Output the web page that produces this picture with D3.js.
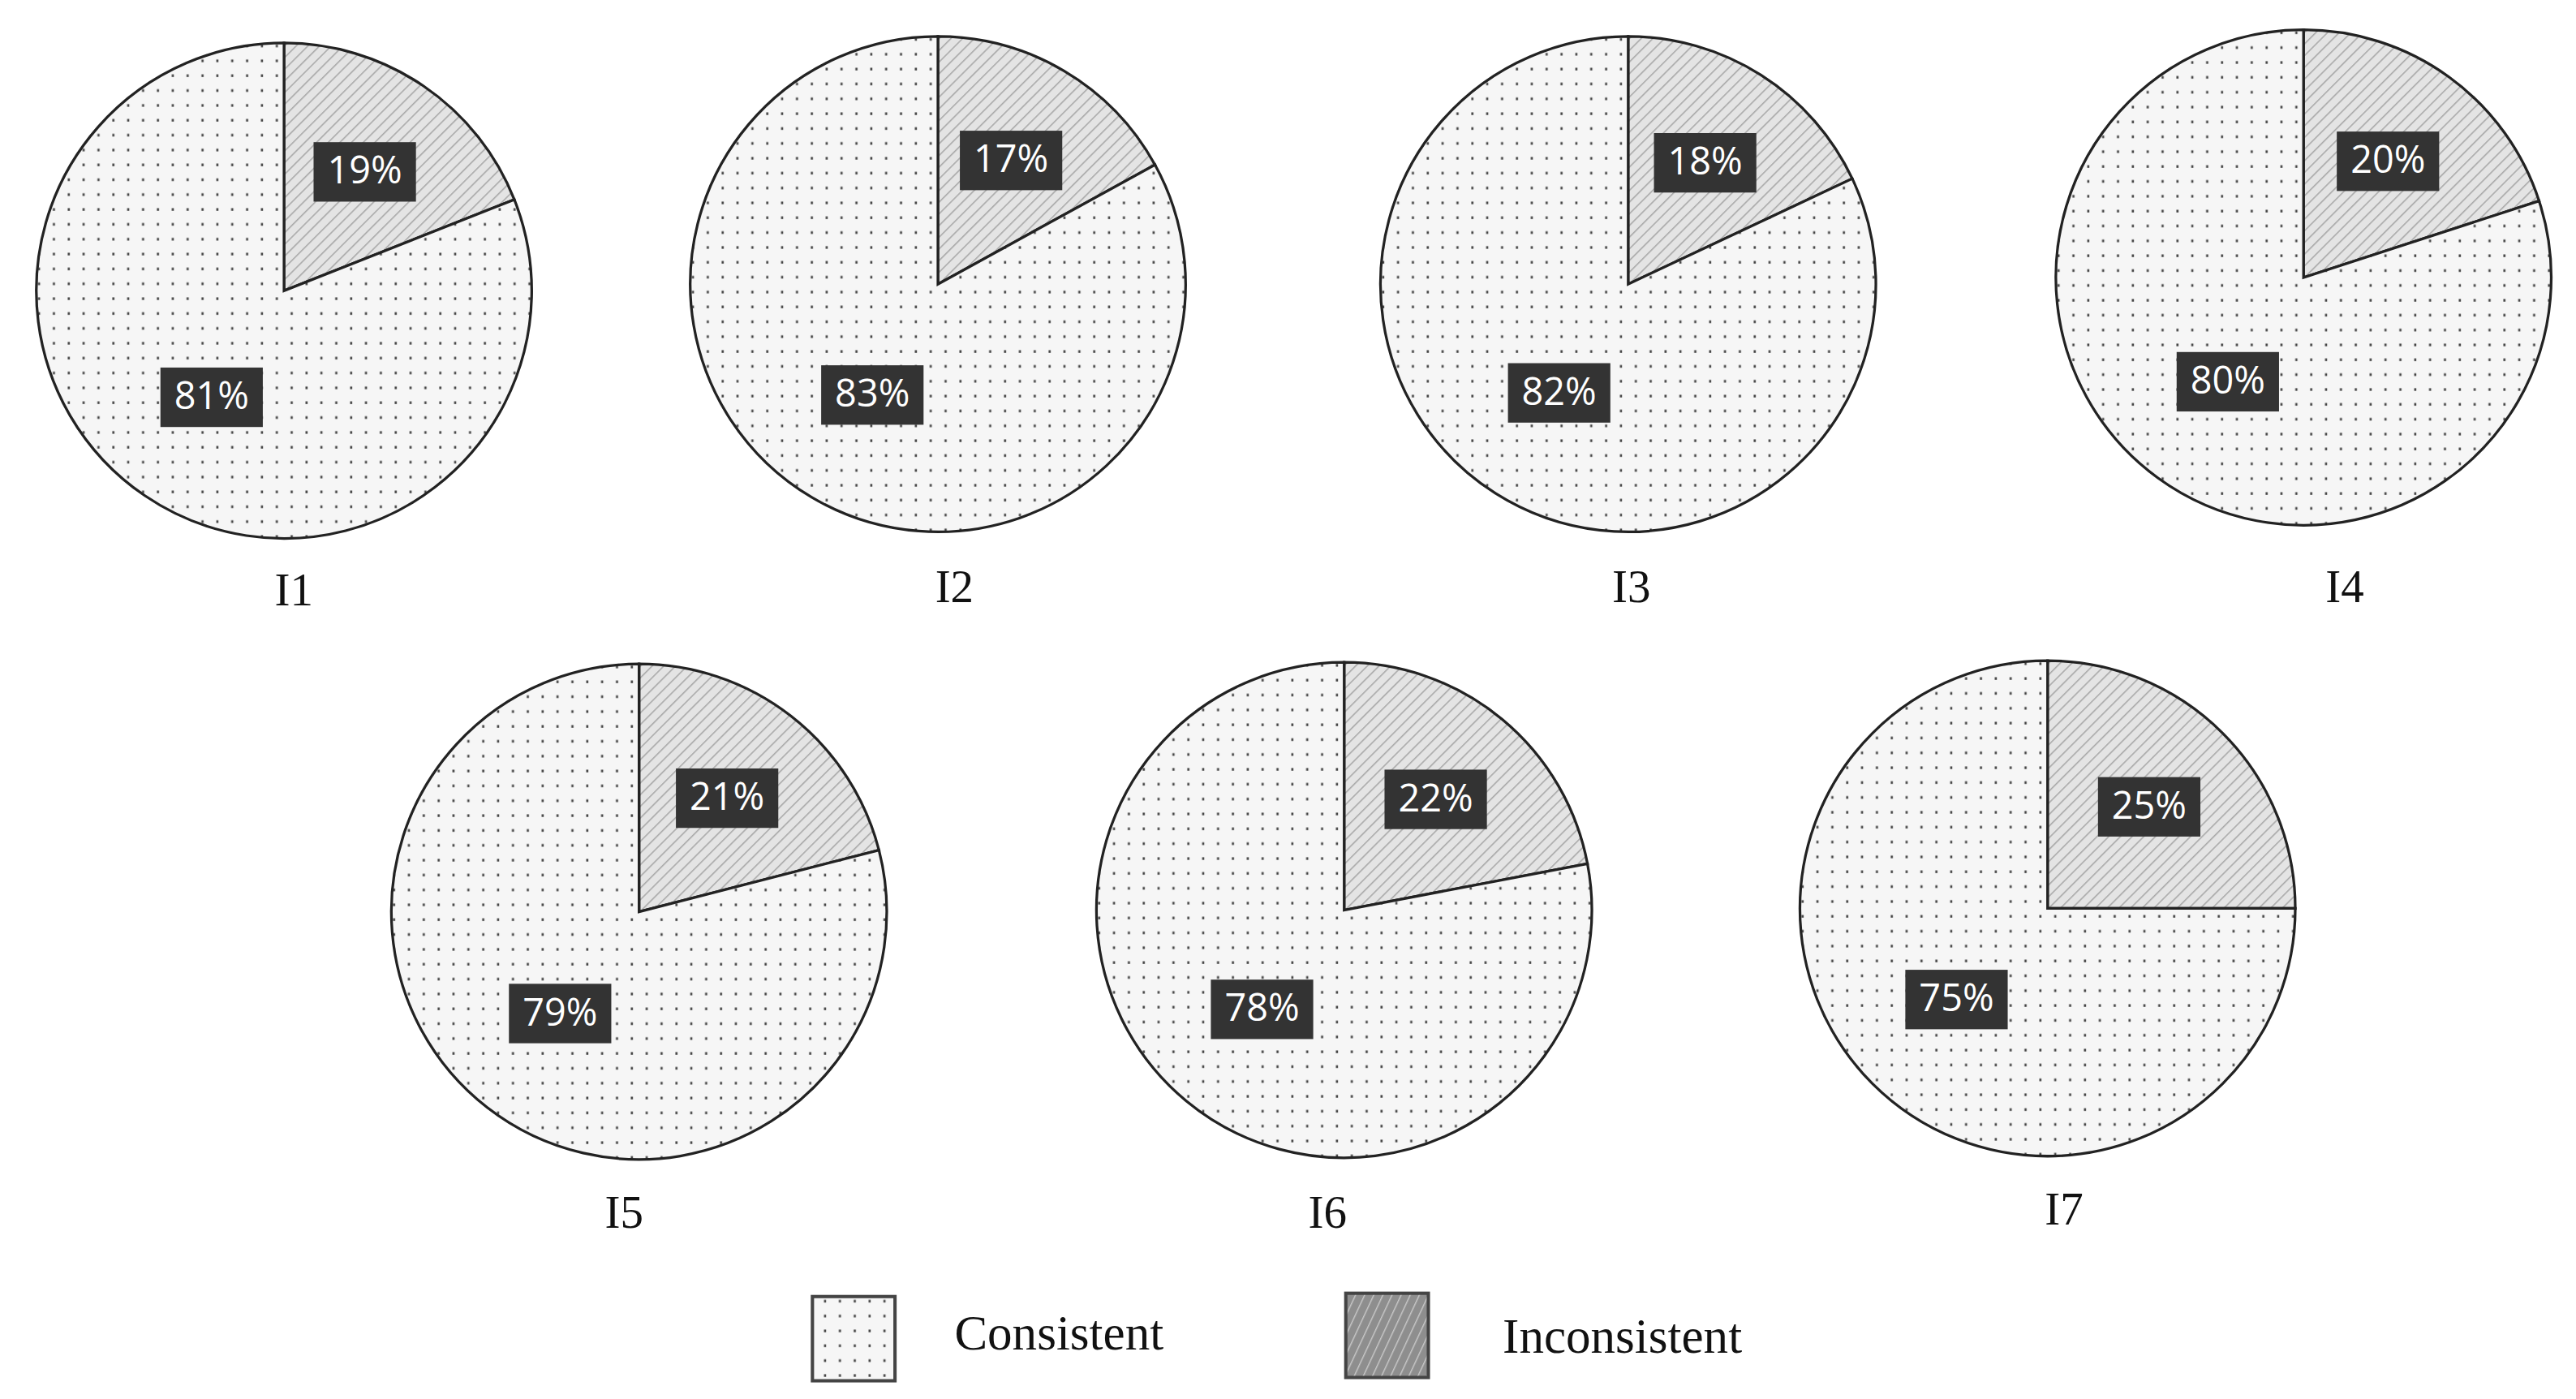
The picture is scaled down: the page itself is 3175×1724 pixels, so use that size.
<!DOCTYPE html>
<html><head><meta charset="utf-8">
<script src="https://cdn.jsdelivr.net/npm/d3@7"></script>
<style>html,body{margin:0;background:#fff;}svg{display:block;}</style>
</head><body>
<svg id="chart" width="3175" height="1724" viewBox="0 0 1560 847"></svg>
<script>
const items = ['I1','I2','I3','I4','I5','I6','I7'];
const consistent = [81,83,82,80,79,78,75];
const inconsistent = [19,17,18,20,21,22,25];
const legendLabels = ['Consistent','Inconsistent'];

// layout of pie centres (in viewBox units)
const centres = [[172,176],[568,172],[986,172],[1395,168],[387,552],[814,551],[1240,550]];
const labelPos = [[178,360],[578,358],[988,358],[1420,358],[378,737],[804,737],[1250,735]];
const R = 150;

const svg = d3.select('#chart');
const defs = svg.append('defs');
const dots = defs.append('pattern').attr('id','dots').attr('patternUnits','userSpaceOnUse').attr('width',9).attr('height',9);
dots.append('rect').attr('width',9).attr('height',9).attr('fill','#f6f6f6');
dots.append('rect').attr('x',4).attr('y',4).attr('width',1.3).attr('height',1.6).attr('fill','#444');
const hatch = defs.append('pattern').attr('id','hatch').attr('patternUnits','userSpaceOnUse').attr('width',5).attr('height',5).attr('patternTransform','rotate(45)');
hatch.append('rect').attr('width',5).attr('height',5).attr('fill','#e4e4e4');
hatch.append('line').attr('x1',0).attr('y1',0).attr('x2',0).attr('y2',5).attr('stroke','#aaa').attr('stroke-width',1.6);
const hatchDark = defs.append('pattern').attr('id','hatchDark').attr('patternUnits','userSpaceOnUse').attr('width',5).attr('height',5).attr('patternTransform','rotate(25)');
hatchDark.append('rect').attr('width',5).attr('height',5).attr('fill','#8e8e8e');
hatchDark.append('line').attr('x1',0).attr('y1',0).attr('x2',0).attr('y2',5).attr('stroke','#c8c8c8').attr('stroke-width',1.4);

const pie = d3.pie().sort(null).value(d=>d.v);
const arc = d3.arc().innerRadius(0).outerRadius(R);

items.forEach((name,i)=>{
  const data = [{k:'inc',v:inconsistent[i]},{k:'con',v:consistent[i]}];
  const g = svg.append('g').attr('transform',`translate(${centres[i][0]},${centres[i][1]})`);
  const arcs = pie(data);
  g.selectAll('path').data(arcs).enter().append('path')
    .attr('d',arc)
    .attr('fill',d=>d.data.k==='inc'?'url(#hatch)':'url(#dots)')
    .attr('stroke','#222').attr('stroke-width',1.6);
  arcs.forEach(a=>{
    const lr = a.data.k==='inc' ? R*0.58 : R*0.52;
    const [x,y] = d3.arc().innerRadius(lr).outerRadius(lr).centroid(a);
    g.append('rect').attr('x',x-31).attr('y',y-18).attr('width',62).attr('height',36).attr('fill','#333');
    g.append('text').attr('x',x).attr('y',y+1).attr('text-anchor','middle').attr('dominant-baseline','middle')
      .attr('font-family','"Open Sans","DejaVu Sans",sans-serif').attr('font-size',23).attr('fill','#fff')
      .text(a.data.v+'%');
  });
  svg.append('text').attr('x',labelPos[i][0]).attr('y',labelPos[i][1]).attr('text-anchor','middle').attr('dominant-baseline','middle')
    .attr('font-family','"Liberation Serif","DejaVu Serif",serif').attr('font-size',28).attr('fill','#111').text(name);
});

// legend
const lg = [{x:492,y:785,fill:'url(#dots)',tx:578,ty:810},{x:815,y:783,fill:'url(#hatchDark)',tx:910,ty:812}];
lg.forEach((d,i)=>{
  svg.append('rect').attr('x',d.x).attr('y',d.y).attr('width',50).attr('height',51).attr('fill',d.fill).attr('stroke','#444').attr('stroke-width',2);
  svg.append('text').attr('x',d.tx).attr('y',d.ty).attr('dominant-baseline','middle')
    .attr('font-family','"Liberation Serif","DejaVu Serif",serif').attr('font-size',30).attr('fill','#111').text(legendLabels[i]);
});
</script>
</body></html>
